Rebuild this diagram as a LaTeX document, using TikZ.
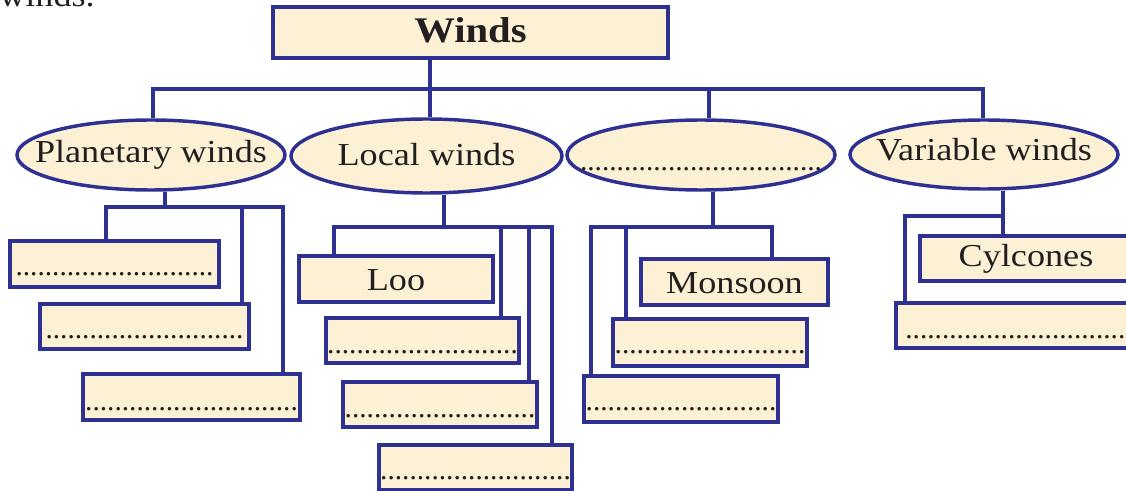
\documentclass[tikz,border=0pt]{standalone}
\usepackage{fontspec}
\setmainfont{Liberation Serif}[FakeStretch=1.13]
\newfontfamily\dotfont{Liberation Serif}
\usetikzlibrary{shapes.geometric}
\definecolor{navy}{HTML}{2E3192}
\definecolor{cream}{HTML}{FCF0D5}
\definecolor{ink}{HTML}{231F20}
\newcommand{\lbl}[2]{\makebox[0pt]{\raisebox{-\dimexpr #1pt*3/4\relax}[0pt][0pt]{#2}}}
\newcommand{\dts}[2]{\makebox[0pt]{\raisebox{-\dimexpr #1pt*3/4\relax}[0pt][0pt]{\dotfont\fontsize{22}{26}\selectfont #2}}}
\tikzset{
  bx/.style 2 args={draw=navy, fill=cream, line width=2.6pt, rectangle, inner sep=0pt,
    minimum width=#1*0.75pt, minimum height=#2*0.75pt, text=ink,
    font=\fontsize{24}{28}\selectfont},
  el/.style 2 args={draw=navy, fill=cream, line width=2.6pt, ellipse, inner sep=0pt,
    minimum width=#1*0.75pt, minimum height=#2*0.75pt, text=ink,
    font=\fontsize{24}{28}\selectfont},
  conn/.style={draw=navy, line width=2.4pt}
}
\begin{document}
\begin{tikzpicture}[x=0.75pt,y=-0.75pt]
\useasboundingbox (0,0) rectangle (1126,491);
\clip (0,0) rectangle (1126,491);

\node[anchor=base west, inner sep=0pt, text=ink, font=\fontsize{24}{28}\selectfont] (intro) at (-1,7) {winds.};

% top
\node[bx={395}{51}, font=\fontsize{27}{32}\selectfont\bfseries] (top) at (470.5,32.5) {\lbl{10.5}{Winds}};

% ellipses
\node[el={268}{70}] (pw) at (151,155) {\lbl{8}{Planetary winds}};
\node[el={271}{74}] (lw) at (426.5,156) {\lbl{10}{Local winds}};
\node[el={268}{70}] (th) at (701,155) {\dts{16}{.................................}};
\node[el={268}{69}] (vw) at (984,154.5) {\lbl{6.5}{Variable winds}};

% planetary children
\node[bx={209}{46}] (b1) at (114.5,264) {\dts{12}{...........................}};
\node[bx={209}{45}] (b2) at (144.5,326.5) {\dts{12}{...........................}};
\node[bx={217}{46}] (b3) at (191.5,397) {\dts{13}{.............................}};

% local children
\node[bx={194}{46}] (l1) at (396,279) {\lbl{11.5}{Loo}};
\node[bx={193}{45}] (l2) at (422.5,340.5) {\dts{13}{..........................}};
\node[bx={194}{45}] (l3) at (440,404.5) {\dts{13}{..........................}};
\node[bx={193}{45}] (l4) at (475.5,467.5) {\dts{12}{..........................}};

% third children
\node[bx={187}{46}] (m1) at (734.5,282) {\lbl{11}{Monsoon}};
\node[bx={194}{47}] (m2) at (710,342.5) {\dts{11}{..........................}};
\node[bx={194}{46}] (m3) at (681,399) {\dts{11.5}{..........................}};

% variable children
\node[bx={212}{45}] (v1) at (1026,258.5) {\lbl{8.5}{Cylcones}};
\node[bx={246}{45}] (v2) at (1019,325.5) {\dts{13}{...............................}};

% connectors from top
\coordinate (tb) at (430,89);
\draw[conn] (top.south -| tb) -- (lw.north -| tb);
\draw[conn] (pw.north -| 153,0) |- (tb) -| (vw.north -| 983,0);
\draw[conn] (tb -| 709,0) -- (th.north -| 709,0);

% planetary
\coordinate (pb) at (165,207);
\draw[conn] (pw.south -| pb) -- (pb);
\draw[conn] (b1.north -| 106,0) |- (pb) -| (b3.north -| 283,0);
\draw[conn] (pb -| 242,0) -- (b2.north -| 242,0);

% local
\coordinate (lb) at (444,227);
\draw[conn] (lw.south -| lb) -- (lb);
\draw[conn] (l1.north -| 334,0) |- (lb) -| (l4.north -| 552,0);
\draw[conn] (lb -| 501,0) -- (l2.north -| 501,0);
\draw[conn] (lb -| 529,0) -- (l3.north -| 529,0);

% third
\coordinate (mb) at (713,227);
\draw[conn] (th.south -| mb) -- (mb);
\draw[conn] (m3.north -| 591,0) |- (mb) -| (m1.north -| 772,0);
\draw[conn] (mb -| 626,0) -- (m2.north -| 626,0);

% variable
\coordinate (vb) at (1003,216);
\draw[conn] (vw.south -| vb) -- (v1.north -| vb);
\draw[conn] (v2.north -| 905,0) |- (vb);
\end{tikzpicture}
\end{document}
